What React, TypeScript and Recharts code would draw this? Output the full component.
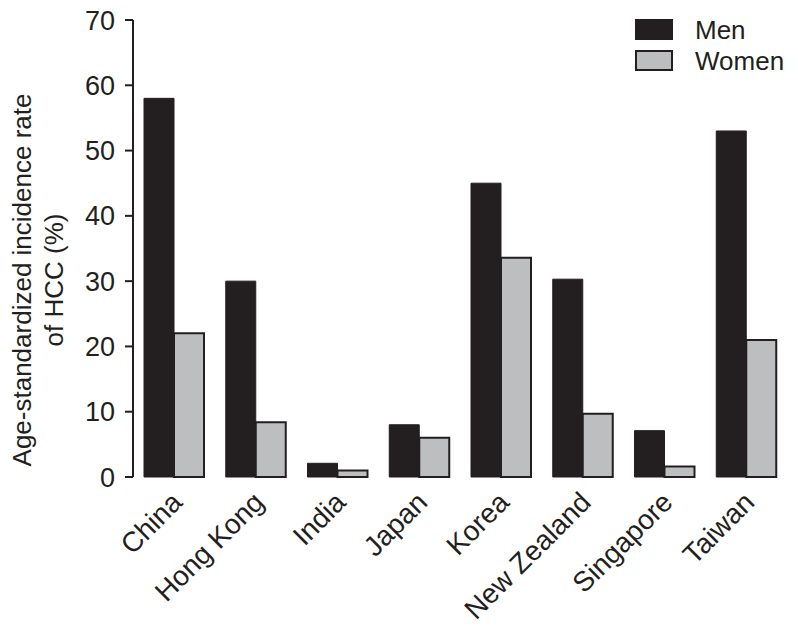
import { BarChart, Bar, XAxis, YAxis, Legend } from "recharts";

const countries = ["China", "Hong Kong", "India", "Japan", "Korea", "New Zealand", "Singapore", "Taiwan"];
const men = [58, 30, 2.1, 8, 45, 30.3, 7.1, 53];
const women = [22, 8.4, 1, 6, 33.6, 9.7, 1.6, 21];
const yTicks = [0, 10, 20, 30, 40, 50, 60, 70];
const edgeTicks = [0, 1, 2, 3, 4, 5, 6, 7, 8];

const data = countries.map((c, i) => ({ country: c, men: men[i], women: women[i] }));

const INK = "#231f20";
const GREY = "#bcbec0";
const FONT = "'Liberation Sans', Arial, sans-serif";

function CountryTick({ x, y, payload }: any) {
  const tx = x + 10;
  const ty = y + 27;
  return (
    <text x={tx} y={ty} transform={`rotate(-45, ${tx}, ${ty})`} textAnchor="end"
      fill={INK} fontSize={28} fontFamily={FONT}>
      {payload.value}
    </text>
  );
}

function YLabel() {
  return (
    <g fill={INK} fontSize={26} fontFamily={FONT}>
      <text x={31} y={280} transform="rotate(-90, 31, 280)" textAnchor="middle">
        Age-standardized incidence rate
      </text>
      <text x={63} y={280} transform="rotate(-90, 63, 280)" textAnchor="middle">
        of HCC (%)
      </text>
    </g>
  );
}

function KeyBox() {
  const rows = [
    { name: "Men", fill: INK },
    { name: "Women", fill: GREY },
  ];
  return (
    <div style={{ fontFamily: FONT, fontSize: 26, color: INK }}>
      {rows.map(r => (
        <div key={r.name} style={{ display: "flex", alignItems: "center", height: 31 }}>
          <span style={{ width: 38, height: 21, background: r.fill, border: `2px solid ${INK}`, boxSizing: "border-box", marginRight: 22 }} />
          <span style={{ lineHeight: "26px" }}>{r.name}</span>
        </div>
      ))}
    </div>
  );
}

export default function App() {
  return (
    <div style={{ position: "absolute", left: 0, top: 0, width: 798, height: 634, background: "#fff" }}>
      <BarChart width={798} height={634} data={data} barGap={0} barSize={30}
        margin={{ top: 20, right: 11, bottom: 0, left: 73 }}>
        <XAxis xAxisId="edge" type="number" domain={[0, 8]} ticks={edgeTicks} allowDataOverflow
          tick={false} tickSize={10} height={0} stroke={INK} strokeWidth={2} />
        <XAxis xAxisId="cat" dataKey="country" height={157} axisLine={false} tickLine={false}
          tickSize={0} tickMargin={0} interval={0} tick={<CountryTick />} />
        <YAxis domain={[0, 70]} ticks={yTicks} width={60} tickSize={8} tickMargin={10}
          stroke={INK} strokeWidth={2} interval={0}
          tick={{ fill: INK, fontSize: 27, fontFamily: FONT }}
          label={{ content: () => <YLabel /> }} />
        <Legend layout="horizontal" verticalAlign="middle" align="center" content={() => <KeyBox />}
          wrapperStyle={{ position: "absolute", top: 14, left: 635, width: 160 }} />
        <Bar xAxisId="cat" dataKey="men" name="Men" fill={INK} stroke={INK} strokeWidth={1}
          isAnimationActive={false} />
        <Bar xAxisId="cat" dataKey="women" name="Women" fill={GREY} stroke={INK} strokeWidth={2}
          isAnimationActive={false} />
      </BarChart>
    </div>
  );
}
